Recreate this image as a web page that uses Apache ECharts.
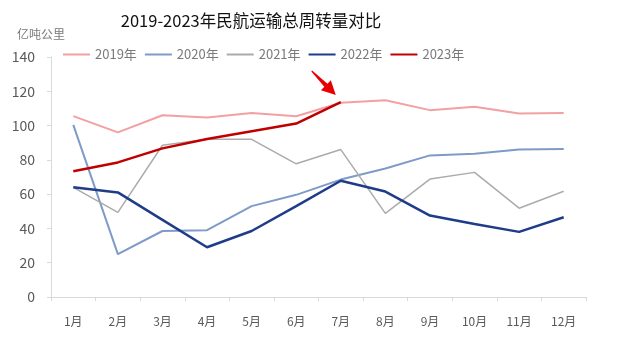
<!DOCTYPE html>
<html>
<head>
<meta charset="utf-8">
<script src="https://cdn.jsdelivr.net/npm/echarts@6/dist/echarts.min.js"></script>
<style>
html,body{margin:0;padding:0;background:#fff;}
#chart{width:640px;height:341px;}
</style>
</head>
<body>
<div id="chart"></div>
<script>
// Monthly total air transport turnover (100 million ton-km)
const months = ['1月','2月','3月','4月','5月','6月','7月','8月','9月','10月','11月','12月'];
const yearNames = ['2019年','2020年','2021年','2022年','2023年'];
const v2019 = [105.5, 96, 106, 104.7, 107.4, 105.4, 113.3, 114.8, 109, 111, 107, 107.4];
const v2020 = [100.4, 25, 38.5, 39, 53, 59.6, 68.5, 75, 82.6, 83.6, 86, 86.3];
const v2021 = [64, 49.4, 88.5, 92, 92, 77.7, 86, 48.8, 68.8, 72.7, 51.8, 61.7];
const v2022 = [64, 61, 45, 29, 38.5, 53, 67.8, 61.5, 47.5, 42.6, 38, 46.5];
const v2023 = [73.4, 78.5, 86.7, 92.2, 96.7, 101.2, 113.7];
const yTicks = { min: 0, max: 140, interval: 20 };

const colors = ['#F2A0A2', '#7E9BC8', '#ABABAB', '#1F3C88', '#C00000'];
const widths = [2, 2, 1.5, 2.5, 2.5];
const seriesValues = [v2019, v2020, v2021, v2022, v2023];

const chart = echarts.init(document.getElementById('chart'));
const font = '"Noto Sans CJK SC", "Noto Sans", sans-serif';

const series = seriesValues.map((vals, i) => ({
  name: yearNames[i],
  type: 'line',
  data: vals,
  symbol: 'none',
  z: i === 4 ? 10 : 2 + i,
  lineStyle: { color: colors[i], width: widths[i] },
  itemStyle: { color: colors[i] }
}));

chart.setOption({
  backgroundColor: '#fff',
  animation: false,
  color: colors,
  title: {
    text: '2019-2023年民航运输总周转量对比',
    left: 246,
    textAlign: 'center',
    top: 7,
    textStyle: { fontFamily: font, fontSize: 16.5, fontWeight: 'normal', color: '#111' }
  },
  legend: {
    data: yearNames,
    left: 58,
    top: 43,
    itemWidth: 27,
    itemHeight: 2,
    itemGap: 8,
    icon: 'rect',
    textStyle: { fontFamily: font, fontSize: 13, color: '#7a7a7a' }
  },
  grid: { left: 51, right: 54, top: 57, bottom: 44, containLabel: false },
  xAxis: {
    type: 'category',
    data: months,
    boundaryGap: true,
    axisLine: { lineStyle: { color: '#D9D9D9', width: 1 } },
    axisTick: { show: true, length: 4, lineStyle: { color: '#D9D9D9' } },
    axisLabel: { fontFamily: font, fontSize: 12, color: '#595959', margin: 18 }
  },
  yAxis: {
    type: 'value',
    min: yTicks.min,
    max: yTicks.max,
    interval: yTicks.interval,
    name: '亿吨公里',
    nameLocation: 'end',
    nameGap: 17,
    nameTextStyle: { fontFamily: font, fontSize: 12, color: '#7a7a7a', align: 'center', padding: [0, 20, 0, 0] },
    axisLine: { show: true, lineStyle: { color: '#D9D9D9' } },
    axisTick: { show: true, length: 4, lineStyle: { color: '#D9D9D9' } },
    splitLine: { show: false },
    axisLabel: { fontFamily: font, fontSize: 14, color: '#595959', margin: 16 }
  },
  series: series
});

// Wedge-shaped arrow pointing down-right at the latest 2023 value
const last = v2023.length - 1;
const p = chart.convertToPixel({ seriesIndex: 4 }, [last, v2023[last]]);
const tip = [p[0] - 5, p[1] - 7];
const len = 34, headLen = 14, headHalf = 7;
const dir = [Math.SQRT1_2, Math.SQRT1_2];      // along the arrow
const nrm = [Math.SQRT1_2, -Math.SQRT1_2];     // across the arrow
const at = (s, t) => [
  tip[0] - dir[0] * (len - s) + nrm[0] * t,
  tip[1] - dir[1] * (len - s) + nrm[1] * t
];
chart.setOption({
  graphic: [{
    type: 'polygon',
    z: 100,
    shape: {
      points: [
        at(0, 0.6),
        at(len - headLen, 2.2),
        at(len - headLen, headHalf),
        at(len, 0),
        at(len - headLen, -headHalf),
        at(len - headLen, -2.2),
        at(0, -0.6)
      ]
    },
    style: { fill: '#E80000' }
  }]
});
</script>
</body>
</html>
